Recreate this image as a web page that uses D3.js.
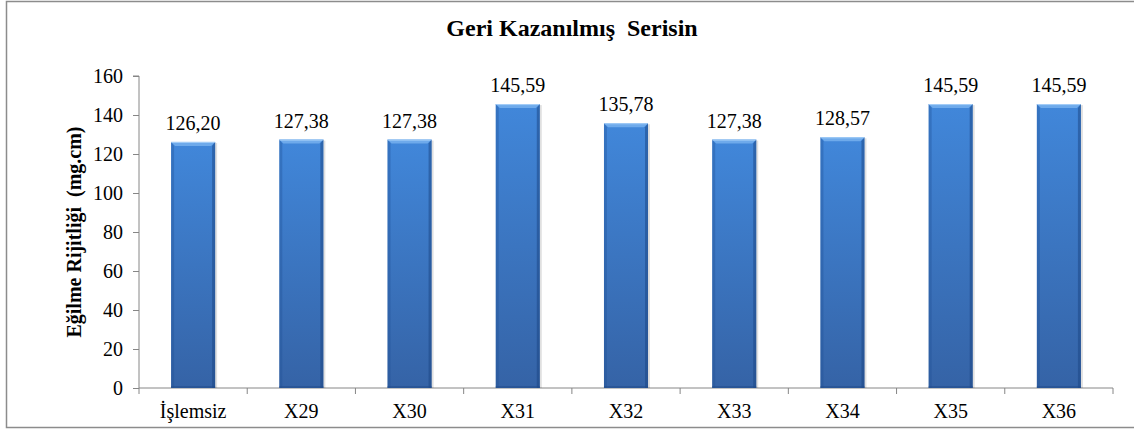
<!DOCTYPE html>
<html>
<head>
<meta charset="utf-8">
<script src="https://cdn.jsdelivr.net/npm/d3@7"></script>
</head>
<body style="margin:0;background:#fff">
<svg id="chart" width="1134" height="434" style="display:block"></svg>
<script>
// Bending rigidity per sample
const categories = ["İşlemsiz", "X29", "X30", "X31", "X32", "X33", "X34", "X35", "X36"];
const values = [126.20, 127.38, 127.38, 145.59, 135.78, 127.38, 128.57, 145.59, 145.59];
const yTicks = [0, 20, 40, 60, 80, 100, 120, 140, 160];
const titleText = "Geri Kazanılmış  Serisin";
const yTitleText = "Eğilme Rijitliği  (mg.cm)";

const serifStyle = (size, weight) =>
  `font-family: 'Times New Roman', Tinos, 'Liberation Serif', serif !important; font-size: ${size}px; font-weight: ${weight}; white-space: pre;`;

const svg = d3.select("#chart");
const plot = { left: 139, right: 1113, top: 76, bottom: 388 };
const axisColor = "#868686";

// Outer chart frame (right edge runs past the visible area)
svg.append("rect")
  .attr("x", 6.5).attr("y", 1.5)
  .attr("width", 1140).attr("height", 426)
  .attr("fill", "#fff")
  .attr("stroke", "#8c8c8c").attr("stroke-width", 1.5);

const x = d3.scaleBand()
  .domain(categories)
  .range([plot.left, plot.right])
  .paddingInner(0.593)
  .paddingOuter(0.2965);

const y = d3.scaleLinear()
  .domain([0, 160])
  .range([plot.bottom, plot.top]);

// Gradient for the bevelled bars
const defs = svg.append("defs");
const g1 = defs.append("linearGradient").attr("id", "barGrad")
  .attr("x1", 0).attr("y1", 0).attr("x2", 0).attr("y2", 1);
g1.append("stop").attr("offset", "0%").attr("stop-color", "#4187da");
g1.append("stop").attr("offset", "100%").attr("stop-color", "#3563a6");

// Y axis
const yAxis = d3.axisLeft(y).tickValues(yTicks).tickSize(6).tickPadding(10);
const yg = svg.append("g").attr("transform", `translate(${plot.left},0)`).call(yAxis);
yg.attr("font-family", null).attr("font-size", null);
yg.select(".domain").attr("stroke", axisColor).attr("d", `M-6,${plot.top}H0V${plot.bottom}`);
yg.selectAll(".tick line").attr("stroke", axisColor);
yg.selectAll(".tick text").attr("fill", "#000").attr("style", serifStyle(20, "normal"));

// X axis: labels centred on bands, ticks on band boundaries
const xAxis = d3.axisBottom(x).tickSize(0).tickPadding(16);
const xg = svg.append("g").attr("transform", `translate(0,${plot.bottom})`).call(xAxis);
xg.attr("font-family", null).attr("font-size", null);
xg.select(".domain").remove();
xg.selectAll(".tick text").attr("fill", "#000").attr("style", serifStyle(20, "normal"));

const boundaries = categories.map(c => x(c) + x.bandwidth() / 2 - x.step() / 2)
  .concat([x(categories[categories.length - 1]) + x.bandwidth() / 2 + x.step() / 2]);

svg.append("line")
  .attr("x1", plot.left).attr("x2", boundaries[boundaries.length - 1])
  .attr("y1", plot.bottom).attr("y2", plot.bottom)
  .attr("stroke", axisColor);
svg.append("g").selectAll("line").data(boundaries).join("line")
  .attr("x1", d => d).attr("x2", d => d)
  .attr("y1", plot.bottom).attr("y2", plot.bottom + 6)
  .attr("stroke", axisColor);

// Bars
const data = categories.map((c, i) => ({ c, v: values[i] }));
const bars = svg.append("g").selectAll("g").data(data).join("g");

bars.each(function(d) {
  const gEl = d3.select(this);
  const x0 = x(d.c), w = x.bandwidth();
  const y0 = y(d.v), y1 = y(0);
  const b = 4;
  // soft shadow
  gEl.append("rect")
    .attr("x", x0 + 1).attr("y", y0 + 1)
    .attr("width", w + 1).attr("height", y1 - y0 - 1)
    .attr("fill", "#000").attr("opacity", 0.12);
  // body
  gEl.append("rect")
    .attr("x", x0).attr("y", y0)
    .attr("width", w).attr("height", y1 - y0)
    .attr("fill", "url(#barGrad)");
  // top bevel
  gEl.append("polygon")
    .attr("points", `${x0},${y0} ${x0 + w},${y0} ${x0 + w - b},${y0 + b} ${x0 + b},${y0 + b}`)
    .attr("fill", "#7db5f0").attr("opacity", 0.75);
  gEl.append("line")
    .attr("x1", x0).attr("x2", x0 + w).attr("y1", y0 + 0.5).attr("y2", y0 + 0.5)
    .attr("stroke", "#a8d0f8").attr("stroke-width", 1);
  // left bevel
  gEl.append("polygon")
    .attr("points", `${x0},${y0} ${x0 + 3},${y0 + b} ${x0 + 3},${y1} ${x0},${y1}`)
    .attr("fill", "#1f4f94").attr("opacity", 0.35);
  // right bevel
  gEl.append("polygon")
    .attr("points", `${x0 + w},${y0} ${x0 + w - 3},${y0 + b} ${x0 + w - 3},${y1} ${x0 + w},${y1}`)
    .attr("fill", "#1a4482").attr("opacity", 0.5);
  // bottom bevel
  gEl.append("rect")
    .attr("x", x0).attr("y", y1 - 2).attr("width", w).attr("height", 2)
    .attr("fill", "#1f4a88").attr("opacity", 0.5);
});

// Value labels
const fmt = v => v.toFixed(2).replace(".", ",");
svg.append("g").selectAll("text").data(data).join("text")
  .attr("x", d => x(d.c) + x.bandwidth() / 2)
  .attr("y", d => y(d.v) - 12)
  .attr("text-anchor", "middle")
  .attr("style", serifStyle(20, "normal"))
  .text(d => fmt(d.v));

// Title
svg.append("text")
  .attr("x", 572).attr("y", 36)
  .attr("text-anchor", "middle")
  .attr("style", serifStyle(24, "bold"))
  .text(titleText);

// Y axis title
svg.append("text")
  .attr("transform", `translate(81,${(plot.top + plot.bottom) / 2}) rotate(-90)`)
  .attr("text-anchor", "middle")
  .attr("style", serifStyle(20, "bold"))
  .text(yTitleText);
</script>
</body>
</html>
